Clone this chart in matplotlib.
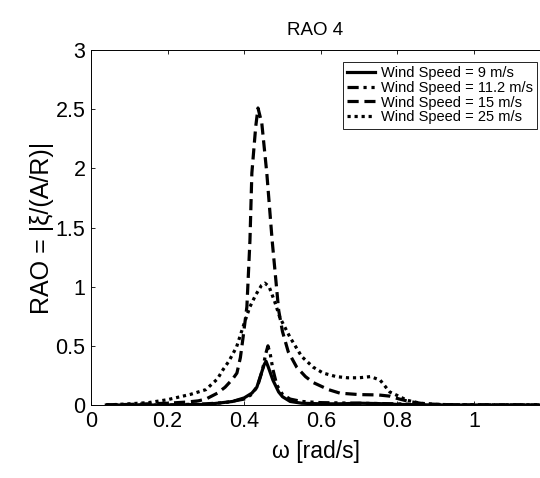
import matplotlib
matplotlib.use("Agg")
from matplotlib import pyplot as plt

plt.rcParams['font.family'] = ['Liberation Sans', 'DejaVu Sans']

# wind speed 9 m/s
w9 = [0.04, 0.2, 0.30, 0.33, 0.37, 0.40, 0.42, 0.433, 0.445, 0.452, 0.457, 0.463,
      0.475, 0.49, 0.50, 0.52, 0.55, 0.6, 0.65, 0.7, 0.75, 0.8, 0.9, 1.17]
r9 = [0.0, 0.0, 0.005, 0.015, 0.03, 0.06, 0.10, 0.15, 0.27, 0.34, 0.37, 0.32,
      0.21, 0.11, 0.07, 0.03, 0.015, 0.01, 0.01, 0.015, 0.012, 0.005, 0.0, 0.0]

# wind speed 11.2 m/s
w11 = [0.04, 0.2, 0.30, 0.35, 0.40, 0.42, 0.435, 0.448, 0.456, 0.462, 0.468, 0.475,
       0.485, 0.50, 0.52, 0.55, 0.6, 0.7, 0.8, 0.9, 1.17]
r11 = [0.0, 0.0, 0.01, 0.02, 0.05, 0.09, 0.16, 0.30, 0.43, 0.50, 0.43, 0.30,
       0.17, 0.09, 0.05, 0.03, 0.02, 0.015, 0.01, 0.0, 0.0]

# wind speed 15 m/s
w15 = [0.04, 0.10, 0.15, 0.20, 0.25, 0.28, 0.30, 0.33, 0.35, 0.37, 0.381, 0.39, 0.397,
       0.407, 0.415, 0.42, 0.43, 0.436, 0.446, 0.459, 0.473, 0.49, 0.50, 0.515, 0.537,
       0.56, 0.58, 0.62, 0.65, 0.70, 0.75, 0.78, 0.80, 0.83, 0.87, 0.95, 1.17]
r15 = [0.0, 0.005, 0.01, 0.015, 0.025, 0.035, 0.05, 0.10, 0.15, 0.22, 0.27, 0.40, 0.57,
       0.83, 1.39, 1.96, 2.35, 2.51, 2.38, 1.96, 1.39, 0.80, 0.62, 0.45, 0.32,
       0.24, 0.19, 0.13, 0.10, 0.088, 0.085, 0.075, 0.055, 0.03, 0.01, 0.0, 0.0]

# wind speed 25 m/s
w25 = [0.04, 0.10, 0.15, 0.17, 0.20, 0.22, 0.26, 0.30, 0.33, 0.345, 0.36, 0.37, 0.38,
       0.40, 0.415, 0.43, 0.445, 0.454, 0.465, 0.48, 0.493, 0.52, 0.55, 0.58, 0.606,
       0.64, 0.67, 0.70, 0.73, 0.755, 0.78, 0.80, 0.825, 0.86, 0.90, 1.0, 1.17]
r25 = [0.0, 0.01, 0.02, 0.03, 0.045, 0.06, 0.09, 0.13, 0.22, 0.30, 0.37, 0.43, 0.49,
       0.69, 0.83, 0.93, 1.01, 1.03, 1.0, 0.87, 0.74, 0.57, 0.41, 0.32, 0.27,
       0.24, 0.23, 0.23, 0.24, 0.21, 0.11, 0.08, 0.04, 0.015, 0.005, 0.0, 0.0]

labels = ['Wind Speed = 9 m/s', 'Wind Speed = 11.2 m/s',
          'Wind Speed = 15 m/s', 'Wind Speed = 25 m/s']


def main():
    fig = plt.figure(figsize=(5.4, 4.78), dpi=100)
    ax = fig.add_axes([91 / 540, 1 - 405 / 478, 1 - 91 / 540, 355 / 478])

    lw = 2.3
    ax.plot(w9, r9, c='black', lw=lw, ls='-', label=labels[0])
    ax.plot(w11, r11, c='black', lw=lw, ls=(0, (3.5, 1.5, 1, 1.5, 1, 1.5)), label=labels[1])
    ax.plot(w15, r15, c='black', lw=lw, ls=(0, (3.5, 1.8)), label=labels[2])
    ax.plot(w25, r25, c='black', lw=lw, ls=(0, (1, 1.2)), label=labels[3])

    ax.set_xlim(0, 449 / 383)
    ax.set_ylim(0, 3)
    ax.set_xticks([0, 0.2, 0.4, 0.6, 0.8, 1])
    ax.set_xticklabels(['0', '0.2', '0.4', '0.6', '0.8', '1'])
    ax.set_yticks([0, 0.5, 1, 1.5, 2, 2.5, 3])
    ax.set_yticklabels(['0', '0.5', '1', '1.5', '2', '2.5', '3'])
    ax.tick_params(direction='in', top=True, length=3, width=0.6, labelsize=15.5, pad=4)
    for s in ['left', 'bottom', 'top']:
        ax.spines[s].set_linewidth(0.7)
    ax.spines['right'].set_visible(False)

    ax.set_title('RAO 4', fontsize=13.5, pad=11)
    ax.set_xlabel('ω [rad/s]', fontsize=16.5, labelpad=6)
    ax.set_ylabel('RAO = |ξ/(A/R)|', fontsize=18, labelpad=1)

    leg = ax.legend(loc='upper right', bbox_to_anchor=(0.994, 0.967), fontsize=10.5,
                    frameon=True, fancybox=False, edgecolor='black', framealpha=1,
                    handlelength=1.9, handletextpad=0.4, borderpad=0.3,
                    labelspacing=0.05, borderaxespad=0)
    leg.get_frame().set_linewidth(0.6)

    fig.savefig('out.png', dpi=100)


if __name__ == '__main__':
    main()
